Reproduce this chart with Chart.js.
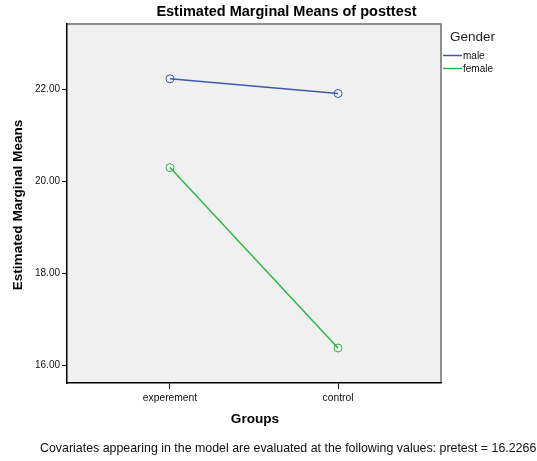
<!DOCTYPE html>
<html>
<head>
<meta charset="utf-8">
<script src="https://cdn.jsdelivr.net/npm/chart.js@4"></script>
<style>
  html, body { margin: 0; padding: 0; background: #ffffff; }
  canvas { display: block; }
</style>
</head>
<body>
<canvas id="c" width="537" height="461"></canvas>
<script>
// Estimated marginal means of posttest by group and gender
const groups = ['experement', 'control'];
const maleMeans = [22.23, 21.91];
const femaleMeans = [20.30, 16.38];
const yTicks = [16, 18, 20, 22];

const MALE = '#3E58AC';
const FEMALE = '#2EB848';
const FONT = '"Liberation Sans", Arial, sans-serif';

const toPoints = vals => vals.map((v, i) => ({ x: i, y: v }));

const decorations = {
  id: 'decorations',
  beforeDraw(chart) {
    const { ctx, chartArea: a } = chart;
    ctx.save();
    ctx.fillStyle = '#f0f0f0';
    ctx.fillRect(a.left, a.top, a.right - a.left, a.bottom - a.top);
    ctx.strokeStyle = '#6e6e6e';
    ctx.lineWidth = 1.5;
    ctx.beginPath();
    ctx.moveTo(a.left, a.top);
    ctx.lineTo(a.right, a.top);
    ctx.lineTo(a.right, a.bottom);
    ctx.stroke();
    ctx.restore();
  },
  afterDraw(chart) {
    const { ctx } = chart;
    ctx.save();
    ctx.fillStyle = '#000';
    ctx.textAlign = 'center';
    ctx.textBaseline = 'middle';
    ctx.font = 'bold 14.5px ' + FONT;
    ctx.fillText('Estimated Marginal Means of posttest', 286.5, 12);

    ctx.font = 'bold 13.6px ' + FONT;
    ctx.fillText('Groups', 255, 419);

    ctx.save();
    ctx.translate(18, 205);
    ctx.rotate(-Math.PI / 2);
    ctx.font = 'bold 13.6px ' + FONT;
    ctx.fillText('Estimated Marginal Means', 0, 0);
    ctx.restore();

    ctx.font = '12.4px ' + FONT;
    ctx.fillStyle = '#111';
    ctx.textAlign = 'left';
    ctx.fillText('Covariates appearing in the model are evaluated at the following values: pretest = 16.2266', 40, 449);

    // legend
    ctx.fillStyle = '#222';
    ctx.font = '13.5px ' + FONT;
    ctx.fillText('Gender', 450, 37);
    const items = [['male', MALE, 55.5], ['female', FEMALE, 68.5]];
    ctx.font = '10px ' + FONT;
    items.forEach(([label, color, y]) => {
      ctx.strokeStyle = color;
      ctx.lineWidth = 1.5;
      ctx.beginPath();
      ctx.moveTo(443, y);
      ctx.lineTo(462, y);
      ctx.stroke();
      ctx.fillStyle = '#111';
      ctx.fillText(label, 463, y + 0.5);
    });
    ctx.restore();
  }
};

new Chart(document.getElementById('c'), {
  type: 'line',
  data: {
    datasets: [
      {
        label: 'male',
        data: toPoints(maleMeans),
        borderColor: MALE,
        backgroundColor: 'transparent',
        borderWidth: 1.5,
        pointRadius: 4,
        pointBorderWidth: 1,
        pointBackgroundColor: 'transparent',
        pointBorderColor: MALE,
        tension: 0
      },
      {
        label: 'female',
        data: toPoints(femaleMeans),
        borderColor: FEMALE,
        backgroundColor: 'transparent',
        borderWidth: 1.5,
        pointRadius: 4,
        pointBorderWidth: 1,
        pointBackgroundColor: 'transparent',
        pointBorderColor: FEMALE,
        tension: 0
      }
    ]
  },
  options: {
    responsive: false,
    animation: false,
    devicePixelRatio: 1,
    layout: { padding: { left: 0, top: 24, right: 96, bottom: 0 } },
    plugins: {
      legend: { display: false },
      title: { display: false },
      tooltip: { enabled: false }
    },
    scales: {
      x: {
        type: 'linear',
        min: -0.613,
        max: 1.613,
        afterFit(scale) { scale.height = 78; },
        afterBuildTicks(scale) { scale.ticks = groups.map((g, i) => ({ value: i })); },
        grid: { drawOnChartArea: false, drawTicks: true, tickLength: 6, color: '#000', tickColor: '#000' },
        border: { display: true, color: '#000', width: 1.5 },
        ticks: {
          color: '#111',
          font: { family: FONT, size: 10.3 },
          padding: 3,
          maxRotation: 0,
          callback: v => groups[v] ?? ''
        }
      },
      y: {
        min: 15.62,
        max: 23.42,
        afterFit(scale) { scale.width = 67; },
        afterBuildTicks(scale) { scale.ticks = yTicks.map(v => ({ value: v })); },
        grid: { drawOnChartArea: false, drawTicks: true, tickLength: 5, color: '#000', tickColor: '#000' },
        border: { display: true, color: '#000', width: 1.5 },
        ticks: {
          color: '#111',
          font: { family: FONT, size: 10 },
          padding: 2,
          callback: v => Number(v).toFixed(2)
        }
      }
    }
  },
  plugins: [decorations]
});
</script>
</body>
</html>
